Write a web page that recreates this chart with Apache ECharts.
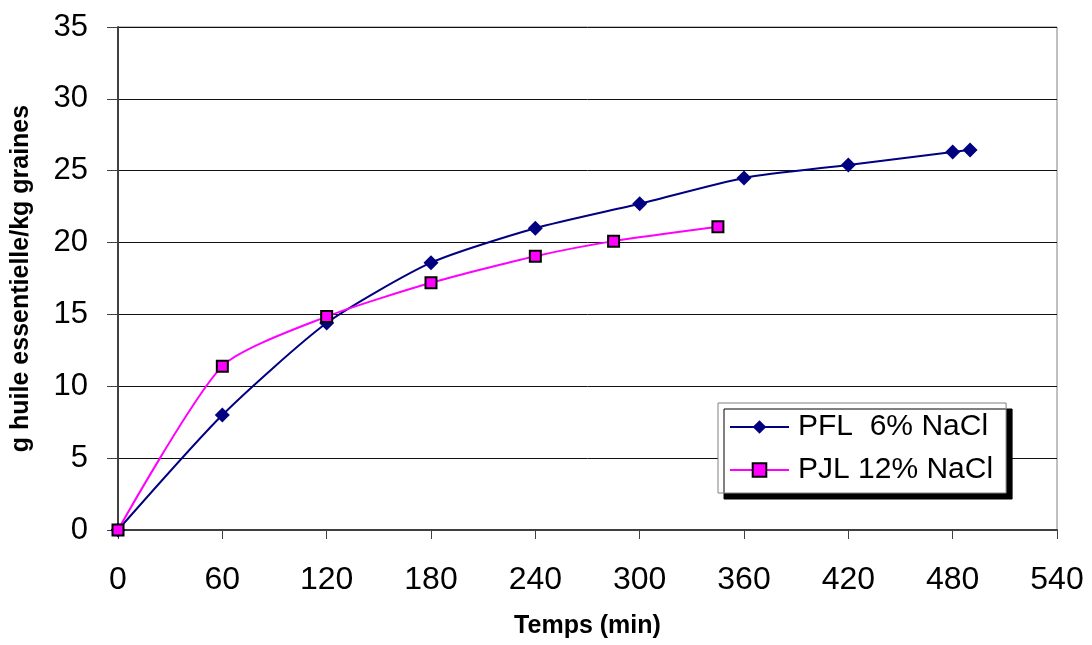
<!DOCTYPE html>
<html><head><meta charset="utf-8">
<script src="https://cdn.jsdelivr.net/npm/echarts@6/dist/echarts.min.js"></script>
<style>html,body{margin:0;padding:0;background:#fff}#c{width:1092px;height:645px}</style>
</head><body><div id="c"></div>
<script>
const pflTimes = [0, 60, 120, 180, 240, 300, 360, 420, 480, 490];
const pflValues = [0, 8.0, 14.4, 18.6, 21.0, 22.7, 24.5, 25.4, 26.3, 26.45];
const pjlTimes = [0, 60, 120, 180, 240, 285, 345];
const pjlValues = [0, 11.4, 14.85, 17.2, 19.05, 20.1, 21.1];
const seriesNames = ['PFL  6% NaCl', 'PJL 12% NaCl'];
const xTitle = 'Temps (min)';
const yTitle = 'g huile essentielle/kg graines';

const pair = (xs, ys) => xs.map((x, i) => [x, ys[i]]);
const font = 'Liberation Sans, Arial, sans-serif';
const chart = echarts.init(document.getElementById('c'));
chart.setOption({
  animation: false,
  backgroundColor: '#fff',
  grid: { left: 118, right: 35, top: 27, bottom: 115, outerBoundsMode: 'none', containLabel: false,
          show: true, borderColor: '#808080', borderWidth: 1, backgroundColor: '#fff' },
  xAxis: {
    type: 'value', min: 0, max: 540, interval: 60,
    name: xTitle, nameLocation: 'middle', nameGap: 84,
    nameTextStyle: { fontFamily: font, fontWeight: 'bold', fontSize: 25, color: '#000' },
    axisLine: { show: true, lineStyle: { color: '#404040', width: 2 } },
    axisTick: { show: true, length: 9, inside: false, lineStyle: { color: '#404040', width: 1 } },
    axisLabel: { fontFamily: font, fontSize: 32, color: '#000', margin: 34 },
    splitLine: { show: false }
  },
  yAxis: {
    type: 'value', min: 0, max: 35, interval: 5,
    name: yTitle, nameLocation: 'middle', nameGap: 84, nameRotate: 90,
    nameTextStyle: { fontFamily: font, fontWeight: 'bold', fontSize: 25, color: '#000' },
    axisLine: { show: true, lineStyle: { color: '#404040', width: 2 } },
    axisTick: { show: true, length: 11, lineStyle: { color: '#404040', width: 1 } },
    axisLabel: { fontFamily: font, fontSize: 31, color: '#000', margin: 30 },
    splitLine: { show: true, lineStyle: { color: '#111', width: 1 } }
  },
  legend: {
    orient: 'vertical', left: 718, top: 403,
    data: seriesNames,
    backgroundColor: '#fff', borderColor: '#808080', borderWidth: 1,
    shadowColor: '#000', shadowBlur: 0, shadowOffsetX: 6, shadowOffsetY: 6,
    padding: [9, 13, 8, 11], itemGap: 13, itemWidth: 59, itemHeight: 17,
    textStyle: { fontFamily: font, fontSize: 30, color: '#000', padding: [0, 0, 0, 4] }
  },
  series: [
    {
      name: seriesNames[0], type: 'line', smooth: 0.22,
      data: pair(pflTimes, pflValues),
      symbol: 'diamond', symbolSize: 15,
      itemStyle: { color: '#000080', borderColor: '#000080', borderWidth: 0 },
      lineStyle: { color: '#000080', width: 2 }
    },
    {
      name: seriesNames[1], type: 'line', smooth: 0.22,
      data: pair(pjlTimes, pjlValues),
      symbol: 'rect', symbolSize: 11,
      itemStyle: { color: '#ff00ff', borderColor: '#000', borderWidth: 2 },
      lineStyle: { color: '#ff00ff', width: 2 }
    }
  ]
});
</script></body></html>
